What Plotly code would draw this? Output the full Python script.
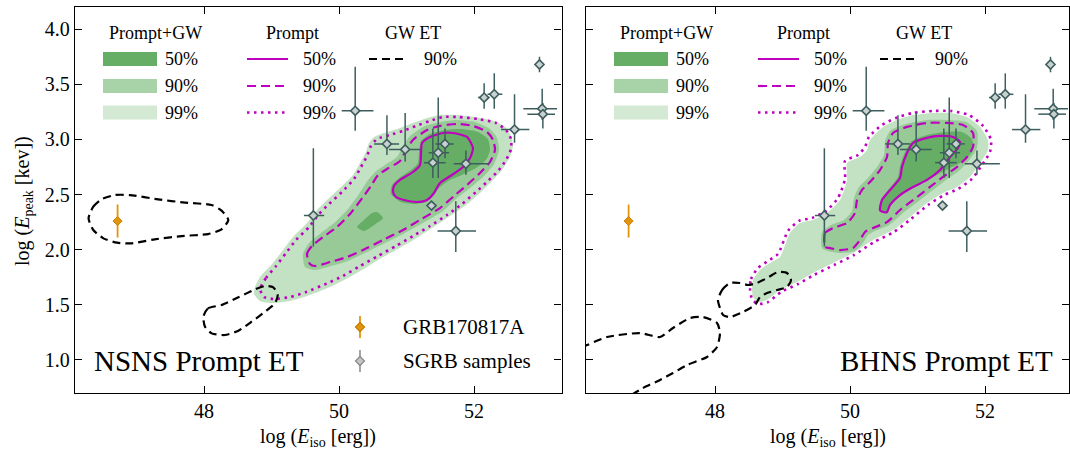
import plotly.graph_objects as go

# ---------------------------------------------------------------------------
# Axis settings
# ---------------------------------------------------------------------------
X_RANGE_L = [46.089, 53.296]
X_RANGE_R = [46.089, 53.244]
Y_RANGE = [0.700, 4.202]
X_TICKS = [48, 50, 52]
Y_TICKS = [1.0, 1.5, 2.0, 2.5, 3.0, 3.5, 4.0]

# ---------------------------------------------------------------------------
# NSNS: Prompt+GW credible regions (filled)
# ---------------------------------------------------------------------------
NSNS_PG99_X = [48.741, 48.756, 48.830, 49.022, 49.170, 49.319, 49.526, 49.674, 49.822, 50.015,
               50.207, 50.311, 50.400, 50.444, 50.519, 50.711, 50.904, 51.096, 51.304, 51.496,
               51.719, 52.015, 52.296, 52.459, 52.548, 52.578, 52.533, 52.415, 52.267, 52.089,
               51.881, 51.644, 51.378, 51.126, 50.874, 50.607, 50.341, 50.104, 49.867, 49.526,
               49.274, 49.022, 48.830]
NSNS_PG99_Y = [1.598, 1.662, 1.752, 1.879, 1.997, 2.115, 2.242, 2.360, 2.451, 2.560,
               2.678, 2.787, 2.887, 2.968, 3.023, 3.068, 3.105, 3.150, 3.195, 3.222,
               3.222, 3.204, 3.168, 3.114, 3.032, 2.941, 2.841, 2.723, 2.624, 2.515,
               2.406, 2.306, 2.197, 2.097, 2.007, 1.916, 1.816, 1.734, 1.662, 1.580,
               1.535, 1.516, 1.535]

NSNS_PG90_X = [49.496, 49.467, 49.556, 49.733, 49.926, 50.119, 50.296, 50.400, 50.533, 50.681,
               50.859, 50.948, 51.052, 51.274, 51.496, 51.748, 52.015, 52.237, 52.341, 52.370,
               52.296, 52.148, 51.941, 51.748, 51.541, 51.244, 50.978, 50.681, 50.385, 50.133,
               49.881, 49.644]
NSNS_PG90_Y = [1.843, 1.961, 2.061, 2.152, 2.242, 2.360, 2.506, 2.605, 2.705, 2.769,
               2.841, 2.941, 3.032, 3.123, 3.159, 3.177, 3.159, 3.095, 3.014, 2.905,
               2.778, 2.669, 2.560, 2.469, 2.351, 2.242, 2.152, 2.061, 1.970, 1.898,
               1.852, 1.816]

NSNS_PG50_X = [50.770, 50.785, 50.889, 51.067, 51.170, 51.185, 51.215, 51.348, 51.570, 51.822,
               52.059, 52.207, 52.237, 52.178, 52.030, 51.822, 51.615, 51.481, 51.393, 51.289,
               51.126, 50.919]
NSNS_PG50_Y = [2.506, 2.587, 2.651, 2.723, 2.787, 2.887, 2.987, 3.050, 3.086, 3.095,
               3.068, 3.005, 2.905, 2.814, 2.741, 2.678, 2.624, 2.560, 2.487, 2.433,
               2.415, 2.433]

NSNS_PG50B_X = [50.267, 50.370, 50.489, 50.563, 50.652, 50.519, 50.370]
NSNS_PG50B_Y = [2.206, 2.270, 2.333, 2.342, 2.288, 2.224, 2.170]

# NSNS: Prompt-only credible contours
NSNS_P99_X = [48.830, 48.919, 49.067, 49.215, 49.363, 49.556, 49.704, 49.852, 50.044, 50.222,
              50.326, 50.415, 50.474, 50.563, 50.756, 50.948, 51.141, 51.348, 51.541, 51.763,
              52.059, 52.326, 52.474, 52.548, 52.548, 52.474, 52.356, 52.207, 52.030, 51.822,
              51.600, 51.348, 51.096, 50.844, 50.578, 50.311, 50.059, 49.837, 49.511, 49.274,
              49.037, 48.889]
NSNS_P99_Y = [1.644, 1.743, 1.852, 1.970, 2.088, 2.206, 2.324, 2.415, 2.524, 2.642,
              2.751, 2.850, 2.941, 3.005, 3.041, 3.077, 3.123, 3.168, 3.204, 3.204,
              3.186, 3.150, 3.086, 3.005, 2.914, 2.814, 2.714, 2.624, 2.524, 2.415,
              2.315, 2.215, 2.124, 2.034, 1.943, 1.852, 1.762, 1.698, 1.616, 1.571,
              1.553, 1.571]

NSNS_P90_X = [49.570, 49.526, 49.600, 49.763, 49.970, 50.163, 50.356, 50.474, 50.578, 50.711,
              50.904, 50.993, 51.096, 51.304, 51.496, 51.748, 51.985, 52.193, 52.281, 52.311,
              52.237, 52.089, 51.896, 51.719, 51.496, 51.200, 50.948, 50.652, 50.356, 50.119,
              49.867, 49.644]
NSNS_P90_Y = [1.870, 1.961, 2.034, 2.115, 2.206, 2.324, 2.478, 2.578, 2.678, 2.732,
              2.805, 2.905, 2.996, 3.086, 3.123, 3.141, 3.123, 3.068, 2.996, 2.905,
              2.796, 2.696, 2.587, 2.496, 2.378, 2.270, 2.179, 2.088, 1.997, 1.934,
              1.888, 1.852]

NSNS_P50_X = [50.800, 50.815, 50.904, 51.096, 51.200, 51.215, 51.230, 51.348, 51.541, 51.689,
              51.896, 51.985, 51.941, 51.837, 51.674, 51.496, 51.407, 51.304, 51.156, 50.963,
              50.844]
NSNS_P50_Y = [2.524, 2.578, 2.633, 2.705, 2.769, 2.877, 2.968, 3.023, 3.059, 3.059,
              3.023, 2.923, 2.832, 2.751, 2.678, 2.605, 2.515, 2.451, 2.433, 2.451,
              2.478]

# NSNS: GW-only (ET) 90% contours
NSNS_GW_A_X = [46.29, 46.36, 46.48, 46.68, 46.90, 47.32, 47.72, 48.11, 48.26, 48.36,
               48.26, 48.06, 47.67, 47.27, 46.93, 46.71, 46.51, 46.36]
NSNS_GW_A_Y = [2.285, 2.390, 2.457, 2.496, 2.496, 2.457, 2.427, 2.406, 2.354, 2.270,
               2.185, 2.142, 2.124, 2.094, 2.058, 2.064, 2.103, 2.179]
NSNS_GW_B_X = [47.990, 48.060, 48.260, 48.509, 48.756, 48.904, 49.027, 49.091, 49.052, 48.904,
               48.706, 48.509, 48.311, 48.114, 48.015]
NSNS_GW_B_Y = [1.392, 1.468, 1.498, 1.568, 1.640, 1.671, 1.659, 1.589, 1.513, 1.438,
               1.347, 1.265, 1.226, 1.241, 1.302]

# ---------------------------------------------------------------------------
# BHNS: Prompt+GW credible regions (filled)
# ---------------------------------------------------------------------------
BHNS_PG99_X = [48.548, 48.563, 48.667, 48.815, 48.963, 49.111, 49.259, 49.452, 49.659, 49.852,
               49.956, 49.956, 50.148, 50.252, 50.296, 50.489, 50.696, 50.933, 51.230, 51.481,
               51.733, 51.926, 52.044, 52.044, 51.926, 51.778, 51.585, 51.378, 51.141, 50.889,
               50.637, 50.341, 50.044, 49.748, 49.452, 49.215, 48.963, 48.770, 48.637, 48.563]
BHNS_PG99_Y = [1.653, 1.725, 1.816, 1.879, 1.934, 2.152, 2.242, 2.270, 2.333, 2.451,
               2.633, 2.787, 2.841, 2.905, 2.996, 3.114, 3.177, 3.222, 3.241, 3.241,
               3.204, 3.114, 2.996, 2.905, 2.787, 2.660, 2.569, 2.515, 2.424, 2.297,
               2.179, 2.088, 1.970, 1.879, 1.789, 1.707, 1.634, 1.544, 1.525, 1.571]

BHNS_PG90_X = [49.585, 49.585, 49.719, 49.911, 50.030, 50.059, 50.133, 50.252, 50.400, 50.504,
               50.519, 50.607, 50.830, 51.141, 51.452, 51.719, 51.881, 51.881, 51.778, 51.630,
               51.422, 51.230, 51.037, 50.785, 50.578, 50.370, 50.267, 50.193, 50.074, 49.852,
               49.674]
BHNS_PG90_Y = [2.015, 2.161, 2.224, 2.270, 2.351, 2.469, 2.569, 2.642, 2.751, 2.859,
               2.987, 3.086, 3.141, 3.177, 3.177, 3.159, 3.077, 2.923, 2.823, 2.723,
               2.633, 2.542, 2.451, 2.333, 2.224, 2.170, 2.133, 2.061, 1.988, 1.970,
               1.988]

BHNS_PG50_X = [50.430, 50.459, 50.578, 50.711, 50.741, 50.815, 50.919, 51.141, 51.407, 51.659,
               51.807, 51.822, 51.704, 51.481, 51.259, 50.963, 50.741, 50.607, 50.533]
BHNS_PG50_Y = [2.351, 2.451, 2.551, 2.660, 2.760, 2.887, 2.987, 3.041, 3.068, 3.068,
               3.005, 2.905, 2.814, 2.741, 2.669, 2.578, 2.496, 2.406, 2.333]

# BHNS: Prompt-only credible contours
BHNS_P99_X = [48.519, 48.533, 48.637, 48.785, 48.933, 49.081, 49.244, 49.437, 49.644, 49.822,
              49.926, 49.926, 50.119, 50.222, 50.281, 50.474, 50.681, 50.933, 51.230, 51.496,
              51.763, 51.970, 52.089, 52.074, 51.956, 51.807, 51.600, 51.393, 51.156, 50.904,
              50.652, 50.356, 50.059, 49.763, 49.467, 49.230, 48.978, 48.785, 48.637, 48.548]
BHNS_P99_Y = [1.644, 1.734, 1.834, 1.898, 1.961, 2.170, 2.261, 2.288, 2.351, 2.469,
              2.642, 2.805, 2.859, 2.932, 3.023, 3.132, 3.195, 3.241, 3.259, 3.259,
              3.222, 3.123, 2.996, 2.887, 2.769, 2.642, 2.551, 2.496, 2.406, 2.279,
              2.161, 2.070, 1.952, 1.861, 1.771, 1.689, 1.616, 1.525, 1.507, 1.553]

BHNS_P90_X = [49.630, 49.630, 49.748, 49.956, 50.074, 50.104, 50.178, 50.296, 50.444, 50.548,
              50.563, 50.637, 50.844, 51.141, 51.437, 51.674, 51.822, 51.822, 51.733, 51.585,
              51.378, 51.185, 50.993, 50.741, 50.548, 50.341, 50.222, 50.148, 50.044, 49.852,
              49.704]
BHNS_P90_Y = [2.025, 2.152, 2.197, 2.242, 2.333, 2.451, 2.542, 2.614, 2.723, 2.841,
              2.968, 3.059, 3.114, 3.150, 3.150, 3.132, 3.059, 2.932, 2.841, 2.751,
              2.660, 2.569, 2.478, 2.360, 2.251, 2.197, 2.161, 2.088, 2.015, 1.997,
              2.015]

BHNS_P50_X = [50.444, 50.474, 50.593, 50.741, 50.770, 50.844, 50.933, 51.141, 51.333, 51.526,
              51.630, 51.600, 51.481, 51.333, 51.141, 50.933, 50.741, 50.593, 50.548, 50.489]
BHNS_P50_Y = [2.360, 2.451, 2.542, 2.651, 2.751, 2.877, 2.968, 3.014, 3.032, 3.023,
              2.977, 2.923, 2.841, 2.723, 2.633, 2.569, 2.496, 2.406, 2.342, 2.342]

# BHNS: GW-only (ET) 90% contours
BHNS_GW_A_X = [48.044, 48.104, 48.222, 48.370, 48.489, 48.622, 48.770, 48.933, 49.067, 49.126,
               49.067, 48.919, 48.770, 48.667, 48.593, 48.415, 48.222, 48.119, 48.074]
BHNS_GW_A_Y = [1.544, 1.634, 1.698, 1.698, 1.680, 1.698, 1.743, 1.798, 1.789, 1.725,
               1.662, 1.634, 1.607, 1.571, 1.498, 1.435, 1.389, 1.408, 1.471]
BHNS_GW_B_X = [45.852, 46.104, 46.400, 46.889, 47.185, 47.378, 47.630, 47.822, 48.030, 48.074,
               48.030, 47.881, 47.585, 47.378, 47.185, 46.933, 46.593]
BHNS_GW_B_Y = [1.072, 1.135, 1.208, 1.244, 1.208, 1.290, 1.380, 1.389, 1.335, 1.244,
               1.117, 1.027, 0.954, 0.881, 0.818, 0.745, 0.618]

# ---------------------------------------------------------------------------
# Observed bursts
# ---------------------------------------------------------------------------
SGRB_LOG_EISO = [50.24, 50.71, 50.98, 49.62, 51.39, 51.47, 51.57, 51.88, 51.37, 51.73,
                 52.15, 52.30, 52.60, 52.97, 53.01, 53.02]
SGRB_LOG_EPEAK = [3.26, 2.96, 2.91, 2.31, 2.79, 2.88, 2.96, 2.78, 2.40, 2.17,
                  3.38, 3.41, 3.09, 3.68, 3.28, 3.23]
SGRB_EISO_ERR_LO = [0.20, 0.19, 0.24, 0.14, 0.13, 0.14, 0.14, 0.18, 0.00, 0.27,
                    0.09, 0.10, 0.20, 0.00, 0.28, 0.23]
SGRB_EISO_ERR_HI = [0.27, 0.18, 0.23, 0.16, 0.19, 0.16, 0.13, 0.34, 0.00, 0.30,
                    0.08, 0.12, 0.22, 0.00, 0.22, 0.18]
SGRB_EPEAK_ERR_LO = [0.18, 0.10, 0.11, 0.28, 0.14, 0.23, 0.13, 0.10, 0.00, 0.19,
                     0.10, 0.13, 0.12, 0.07, 0.10, 0.13]
SGRB_EPEAK_ERR_HI = [0.40, 0.26, 0.33, 0.61, 0.31, 0.50, 0.14, 0.12, 0.00, 0.27,
                     0.13, 0.19, 0.32, 0.07, 0.18, 0.10]

GRB170817A_LOG_EISO = [46.72]
GRB170817A_LOG_EPEAK = [2.26]
GRB170817A_EPEAK_ERR = [0.15]

# ---------------------------------------------------------------------------
# Styling
# ---------------------------------------------------------------------------
FONT = "Liberation Serif"
GREEN_99 = "#c3e1c3"
GREEN_90 = "#97ca97"
GREEN_50 = "#66ae66"
SWATCH_50 = "#66ad66"
SWATCH_90 = "#a8d3a8"
SWATCH_99 = "#d3e9d3"
MAGENTA = "#c000c0"
SGRB_LINE = "#3e5e5e"
SGRB_FILL = "#c9d1d1"
ORANGE = "#e0960c"

W_L, W_R, H = 486.5, 483.0, 386.0   # plot-area sizes of the two panels (px)

fig = go.Figure()


def closed(xs, ys):
    return list(xs) + [xs[0]], list(ys) + [ys[0]]


def add_fill(xs, ys, color, xa, ya):
    cx, cy = closed(xs, ys)
    fig.add_trace(go.Scatter(x=cx, y=cy, mode="lines", fill="toself", fillcolor=color,
                             line=dict(width=0, shape="spline", smoothing=0.6),
                             xaxis=xa, yaxis=ya, hoverinfo="skip", showlegend=False))


def add_line(xs, ys, color, dash, width, xa, ya, close=True):
    cx, cy = closed(xs, ys) if close else (list(xs), list(ys))
    fig.add_trace(go.Scatter(x=cx, y=cy, mode="lines",
                             line=dict(color=color, dash=dash, width=width,
                                       shape="spline", smoothing=0.6),
                             xaxis=xa, yaxis=ya, hoverinfo="skip", showlegend=False))


def add_bursts(xa, ya):
    fig.add_trace(go.Scatter(
        x=SGRB_LOG_EISO, y=SGRB_LOG_EPEAK, mode="markers",
        marker=dict(symbol="diamond", size=7, color=SGRB_FILL,
                    line=dict(color=SGRB_LINE, width=1.6)),
        error_x=dict(type="data", symmetric=False, array=SGRB_EISO_ERR_HI,
                     arrayminus=SGRB_EISO_ERR_LO, color=SGRB_LINE, thickness=1.5, width=0),
        error_y=dict(type="data", symmetric=False, array=SGRB_EPEAK_ERR_HI,
                     arrayminus=SGRB_EPEAK_ERR_LO, color=SGRB_LINE, thickness=1.5, width=0),
        xaxis=xa, yaxis=ya, hoverinfo="skip", showlegend=False))
    fig.add_trace(go.Scatter(
        x=GRB170817A_LOG_EISO, y=GRB170817A_LOG_EPEAK, mode="markers",
        marker=dict(symbol="diamond", size=7, color=ORANGE, line=dict(color="#c97f00", width=1)),
        error_y=dict(type="data", array=GRB170817A_EPEAK_ERR, color=ORANGE, thickness=1.8, width=0),
        xaxis=xa, yaxis=ya, hoverinfo="skip", showlegend=False))


panels = [
    dict(xa="x", ya="y",
         pg=[(NSNS_PG99_X, NSNS_PG99_Y, GREEN_99), (NSNS_PG90_X, NSNS_PG90_Y, GREEN_90),
             (NSNS_PG50_X, NSNS_PG50_Y, GREEN_50), (NSNS_PG50B_X, NSNS_PG50B_Y, GREEN_50)],
         p=[(NSNS_P99_X, NSNS_P99_Y, "2.5px,4.5px", 2.6), (NSNS_P90_X, NSNS_P90_Y, "9px,5px", 2.2),
            (NSNS_P50_X, NSNS_P50_Y, "solid", 2.2)],
         gw=[(NSNS_GW_A_X, NSNS_GW_A_Y, True), (NSNS_GW_B_X, NSNS_GW_B_Y, True)]),
    dict(xa="x2", ya="y2",
         pg=[(BHNS_PG99_X, BHNS_PG99_Y, GREEN_99), (BHNS_PG90_X, BHNS_PG90_Y, GREEN_90),
             (BHNS_PG50_X, BHNS_PG50_Y, GREEN_50)],
         p=[(BHNS_P99_X, BHNS_P99_Y, "2.5px,4.5px", 2.6), (BHNS_P90_X, BHNS_P90_Y, "9px,5px", 2.2),
            (BHNS_P50_X, BHNS_P50_Y, "solid", 2.2)],
         gw=[(BHNS_GW_A_X, BHNS_GW_A_Y, True), (BHNS_GW_B_X, BHNS_GW_B_Y, False)]),
]

for pan in panels:
    for xs, ys, col in pan["pg"]:
        add_fill(xs, ys, col, pan["xa"], pan["ya"])
    for xs, ys, dash, w in pan["p"]:
        add_line(xs, ys, MAGENTA, dash, w, pan["xa"], pan["ya"])
    for xs, ys, cl in pan["gw"]:
        add_line(xs, ys, "black", "8px,5px", 2.2, pan["xa"], pan["ya"], close=cl)
    add_bursts(pan["xa"], pan["ya"])

# ---------------------------------------------------------------------------
# Legend blocks (drawn in axis-domain coordinates, offsets in px from top-left)
# ---------------------------------------------------------------------------
annotations = []
shapes = []


def yref_of(ax):
    return "y domain" if ax == "x" else "y2 domain"


def dom(w, dx, dy):
    return dx / w, 1.0 - dy / H


def text(ax, w, dx, dy, s, size, xanchor="left"):
    xd, yd = dom(w, dx, dy)
    annotations.append(dict(xref=f"{ax} domain", yref=yref_of(ax),
                            x=xd, y=yd, text=s, showarrow=False, xanchor=xanchor,
                            yanchor="middle", font=dict(family=FONT, size=size, color="black")))


def rect(ax, w, dx0, dx1, dy0, dy1, color):
    x0, y0 = dom(w, dx0, dy0)
    x1, y1 = dom(w, dx1, dy1)
    shapes.append(dict(type="rect", xref=f"{ax} domain", yref=yref_of(ax),
                       x0=x0, x1=x1, y0=y0, y1=y1, fillcolor=color, line=dict(width=0)))


def hline(ax, w, dx0, dx1, dy, color, dash, width):
    x0, yy = dom(w, dx0, dy)
    x1, _ = dom(w, dx1, dy)
    shapes.append(dict(type="line", xref=f"{ax} domain", yref=yref_of(ax),
                       x0=x0, x1=x1, y0=yy, y1=yy, line=dict(color=color, dash=dash, width=width)))


def vline(ax, w, dx, dy0, dy1, color, width):
    xx, y0 = dom(w, dx, dy0)
    _, y1 = dom(w, dx, dy1)
    shapes.append(dict(type="line", xref=f"{ax} domain", yref=yref_of(ax),
                       x0=xx, x1=xx, y0=y0, y1=y1, line=dict(color=color, width=width)))


def diamond(ax, w, dx, dy, r, fill, edge):
    pts = [(dx, dy - r), (dx + r, dy), (dx, dy + r), (dx - r, dy)]
    coords = [dom(w, a, b) for a, b in pts]
    path = "M " + " L ".join(f"{a:.5f},{b:.5f}" for a, b in coords) + " Z"
    shapes.append(dict(type="path", xref=f"{ax} domain", yref=yref_of(ax),
                       path=path, fillcolor=fill, line=dict(color=edge, width=1.3)))


LEVELS = ["50%", "90%", "99%"]
ROWS = [52, 79, 105.5]

for ax, w in (("x", W_L), ("x2", W_R)):
    text(ax, w, 80, 26, "Prompt+GW", 18, "center")
    text(ax, w, 217, 26, "Prompt", 18, "center")
    text(ax, w, 338, 26, "GW ET", 18, "center")
    for lvl, row, col in zip(LEVELS, ROWS, [SWATCH_50, SWATCH_90, SWATCH_99]):
        rect(ax, w, 28, 82, row - 7, row + 7, col)
        text(ax, w, 88, row, lvl, 18)
    for lvl, row, dash, lw in zip(LEVELS, ROWS, ["solid", "9px,5px", "2.5px,4.5px"], [2.2, 2.2, 2.6]):
        hline(ax, w, 172, 213, row, MAGENTA, dash, lw)
        text(ax, w, 226, row, lvl, 18)
    hline(ax, w, 294, 333, ROWS[0], "black", "8px,5px", 2.2)
    text(ax, w, 347, ROWS[0], "90%", 18)

# burst legend (left panel only)
vline("x", W_L, 285, 309, 331, ORANGE, 1.8)
diamond("x", W_L, 285, 320, 4.5, ORANGE, "#c97f00")
text("x", W_L, 326, 320, "GRB170817A", 21)
vline("x", W_L, 285, 343, 365, "#9a9a9a", 1.8)
diamond("x", W_L, 285, 354, 4.5, "#c4c4c4", "#8c8c8c")
text("x", W_L, 326, 354, "SGRB samples", 21)

# panel labels
annotations.append(dict(xref="x domain", yref="y domain", x=16.7 / W_L, y=(393 - 361) / H,
                        text="NSNS Prompt ET", showarrow=False, xanchor="left", yanchor="middle",
                        font=dict(family=FONT, size=29, color="black")))
annotations.append(dict(xref="x2 domain", yref="y2 domain", x=(1055 - 586) / W_R, y=(393 - 361) / H,
                        text="BHNS Prompt ET", showarrow=False, xanchor="right", yanchor="middle",
                        font=dict(family=FONT, size=29, color="black")))

# axis titles
annotations.append(dict(xref="paper", yref="paper", x=-52 / 994, y=(393 - 201) / H,
                        text="log (<i>E</i><sub>peak</sub> [kev])", textangle=-90, showarrow=False,
                        xanchor="center", yanchor="middle",
                        font=dict(family=FONT, size=20, color="black")))
for ax in ("x", "x2"):
    annotations.append(dict(xref=f"{ax} domain", yref="paper", x=0.5, y=-44 / H,
                            text="log (<i>E</i><sub>iso</sub> [erg])", showarrow=False,
                            xanchor="center", yanchor="middle",
                            font=dict(family=FONT, size=20, color="black")))

axis_common = dict(showline=True, linecolor="black", linewidth=1.4, mirror="allticks",
                   ticks="inside", ticklen=7, tickwidth=1.3, tickcolor="black",
                   showgrid=False, zeroline=False,
                   tickfont=dict(family=FONT, size=20, color="black"))

fig.update_layout(
    width=1070, height=450,
    margin=dict(l=75, r=1, t=7, b=57),
    plot_bgcolor="white", paper_bgcolor="white",
    font=dict(family=FONT, color="black"),
    xaxis=dict(domain=[0, W_L / 994], range=X_RANGE_L, tickvals=X_TICKS, anchor="y", **axis_common),
    xaxis2=dict(domain=[511 / 994, 1.0], range=X_RANGE_R, tickvals=X_TICKS, anchor="y2", **axis_common),
    yaxis=dict(domain=[0, 1], range=Y_RANGE, tickvals=Y_TICKS, ticktext=[f"{v:.1f}" for v in Y_TICKS],
               anchor="x", **axis_common),
    yaxis2=dict(domain=[0, 1], range=Y_RANGE, tickvals=Y_TICKS, showticklabels=False,
                anchor="x2", **axis_common),
    annotations=annotations,
    shapes=shapes,
    showlegend=False,
)

fig.write_html("out.html")
